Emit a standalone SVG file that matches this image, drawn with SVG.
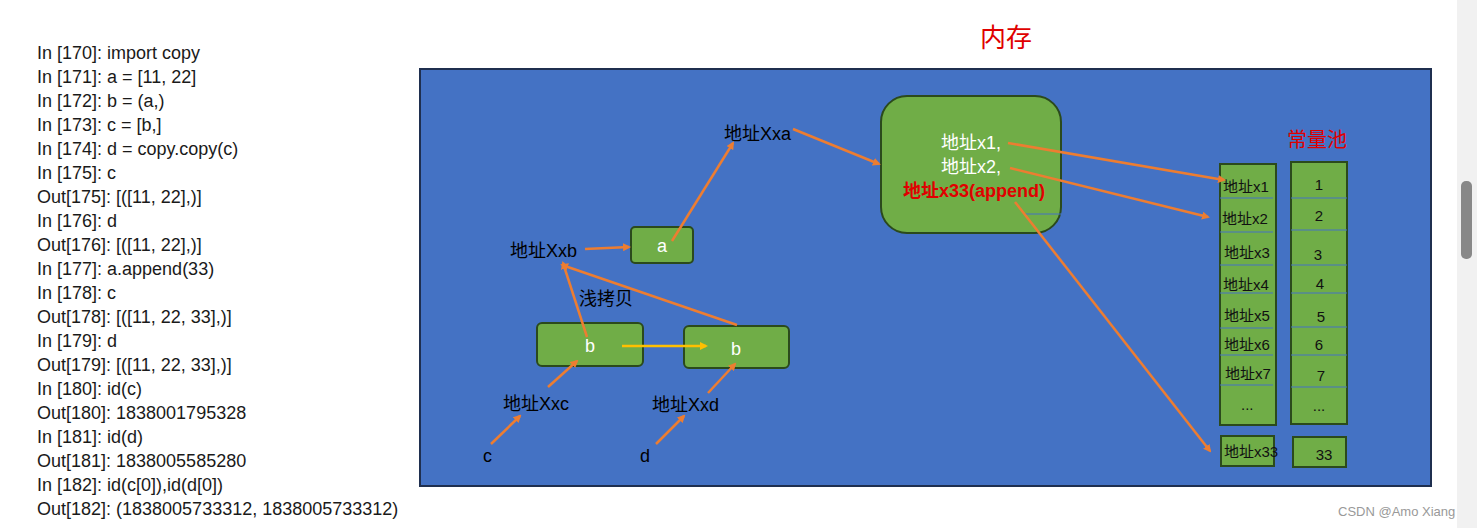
<svg xmlns="http://www.w3.org/2000/svg" width="1477" height="528" viewBox="0 0 1477 528">
<style>
.code{font-family:"Liberation Sans",Arial,sans-serif;font-size:18px;fill:#1a1a1a}
.lbl{font-family:"Liberation Sans","Noto Sans CJK SC",sans-serif;font-size:18px;fill:#000}
.cell{font-family:"Liberation Sans","Noto Sans CJK SC",sans-serif;font-size:15px;fill:#111}
.wt{font-family:"Liberation Sans","Noto Sans CJK SC",sans-serif;font-size:18px;fill:#fff}
.box{fill:#70AD47;stroke:#2b4a1c;stroke-width:2}
.ar{stroke:#ED7D31;stroke-width:2.5;fill:none;marker-end:url(#ah)}
.sep{stroke:#4472C4;stroke-width:1.2}
</style>
<defs>
<marker id="ah" markerWidth="8" markerHeight="8" refX="6" refY="4" orient="auto" markerUnits="userSpaceOnUse" viewBox="0 0 8 8"><path d="M0,0 L8,4 L0,8 z" fill="#ED7D31"/></marker>
<marker id="ahy" markerWidth="8" markerHeight="8" refX="6" refY="4" orient="auto" markerUnits="userSpaceOnUse" viewBox="0 0 8 8"><path d="M0,0 L8,4 L0,8 z" fill="#FFC000"/></marker>
</defs>
<rect width="1477" height="528" fill="#fff"/>
<rect x="1457" y="0" width="20" height="528" fill="#f1f1f1"/>
<rect x="1461" y="181" width="11" height="78" rx="5" fill="#888"/>
<g id="code" class="code">
<text x="37" y="59">In [170]: import copy</text>
<text x="37" y="83">In [171]: a = [11, 22]</text>
<text x="37" y="107">In [172]: b = (a,)</text>
<text x="37" y="131">In [173]: c = [b,]</text>
<text x="37" y="155">In [174]: d = copy.copy(c)</text>
<text x="37" y="179">In [175]: c</text>
<text x="37" y="203">Out[175]: [([11, 22],)]</text>
<text x="37" y="227">In [176]: d</text>
<text x="37" y="251">Out[176]: [([11, 22],)]</text>
<text x="37" y="275">In [177]: a.append(33)</text>
<text x="37" y="299">In [178]: c</text>
<text x="37" y="323">Out[178]: [([11, 22, 33],)]</text>
<text x="37" y="347">In [179]: d</text>
<text x="37" y="371">Out[179]: [([11, 22, 33],)]</text>
<text x="37" y="395">In [180]: id(c)</text>
<text x="37" y="419">Out[180]: 1838001795328</text>
<text x="37" y="443">In [181]: id(d)</text>
<text x="37" y="467">Out[181]: 1838005585280</text>
<text x="37" y="491">In [182]: id(c[0]),id(d[0])</text>
<text x="37" y="515">Out[182]: (1838005733312, 1838005733312)</text>
</g>
<text x="980" y="47" font-family="'Noto Sans CJK SC',sans-serif" font-size="26" fill="#e00000">内存</text>
<rect x="420" y="69" width="1011" height="417" fill="#4472C4" stroke="#1f2f4f" stroke-width="2"/>
<text x="1287" y="147" font-family="'Noto Sans CJK SC',sans-serif" font-size="20" fill="#e00000">常量池</text>
<g id="n-a"><rect class="box" x="631" y="227" width="62" height="36" rx="4"/><text class="wt" x="662" y="252" text-anchor="middle">a</text></g>
<g id="n-b1"><rect class="box" x="537" y="323" width="106" height="43" rx="5"/><text class="wt" x="590" y="352" text-anchor="middle">b</text></g>
<g id="n-b2"><rect class="box" x="684" y="326" width="105" height="42" rx="5"/><text class="wt" x="736" y="355" text-anchor="middle">b</text></g>
<g id="n-list"><rect class="box" x="881" y="96" width="180" height="137" rx="26"/>
<text class="wt" x="971" y="149" text-anchor="middle">地址x1,</text>
<text class="wt" x="971" y="173" text-anchor="middle">地址x2,</text>
<text x="974" y="197" text-anchor="middle" font-family="'Liberation Sans','Noto Sans CJK SC',sans-serif" font-size="18" font-weight="bold" fill="#e00000">地址x33(append)</text>
<line x1="1025" y1="214" x2="1061" y2="214" class="sep"/></g>
<g id="n-addrcol"><rect class="box" x="1220" y="164" width="56" height="261"/>
<line class="sep" x1="1220" y1="198" x2="1273" y2="198"/><line class="sep" x1="1220" y1="232" x2="1273" y2="232"/><line class="sep" x1="1220" y1="265" x2="1273" y2="265"/><line class="sep" x1="1220" y1="293" x2="1273" y2="293"/><line class="sep" x1="1220" y1="328" x2="1273" y2="328"/><line class="sep" x1="1220" y1="355" x2="1273" y2="355"/><line class="sep" x1="1220" y1="385" x2="1273" y2="385"/>
<g class="cell"><text x="1223" y="192">地址x1</text><text x="1222" y="224">地址x2</text><text x="1224" y="258">地址x3</text><text x="1223" y="290">地址x4</text><text x="1224" y="321">地址x5</text><text x="1224" y="350">地址x6</text><text x="1225" y="379">地址x7</text><text x="1241" y="410">...</text></g></g>
<g id="n-valcol"><rect class="box" x="1291" y="162" width="56" height="262"/>
<line class="sep" x1="1291" y1="198" x2="1347" y2="198"/><line class="sep" x1="1291" y1="230" x2="1347" y2="230"/><line class="sep" x1="1291" y1="265" x2="1347" y2="265"/><line class="sep" x1="1291" y1="293" x2="1347" y2="293"/><line class="sep" x1="1291" y1="327" x2="1347" y2="327"/><line class="sep" x1="1291" y1="355" x2="1347" y2="355"/><line class="sep" x1="1291" y1="387" x2="1347" y2="387"/>
<g class="cell" font-size="16" text-anchor="middle"><text x="1319" y="190">1</text><text x="1319" y="221">2</text><text x="1318" y="260">3</text><text x="1320" y="289">4</text><text x="1321" y="322">5</text><text x="1319" y="350">6</text><text x="1321" y="381">7</text><text x="1319" y="411">...</text></g></g>
<g id="n-x33"><rect class="box" x="1221" y="436" width="53" height="30"/><text class="cell" x="1224" y="457">地址x33</text></g>
<g id="n-33"><rect class="box" x="1293" y="437" width="53" height="30"/><text class="cell" x="1324" y="460" text-anchor="middle" font-size="16">33</text></g>
<g id="labels" class="lbl">
<text x="724" y="140">地址Xxa</text>
<text x="510" y="257">地址Xxb</text>
<text x="579" y="305">浅拷贝</text>
<text x="503" y="410">地址Xxc</text>
<text x="652" y="411">地址Xxd</text>
<text x="483" y="462">c</text>
<text x="640" y="462">d</text>
</g>
<g id="connectors">
<line class="ar" x1="585" y1="249" x2="629" y2="247"/>
<line class="ar" x1="672" y1="241" x2="733" y2="143"/>
<line class="ar" x1="793" y1="129" x2="879" y2="164"/>
<line class="ar" x1="1008" y1="143" x2="1224" y2="180"/>
<line class="ar" x1="1010" y1="168" x2="1208" y2="217"/>
<line class="ar" x1="1015" y1="202" x2="1210" y2="451"/>
<line class="ar" x1="587" y1="337" x2="563" y2="263"/>
<line class="ar" x1="737" y1="325" x2="562" y2="265"/>
<line class="ar" x1="548" y1="387" x2="577" y2="361"/>
<line class="ar" x1="708" y1="393" x2="735" y2="364"/>
<line class="ar" x1="491" y1="444" x2="520" y2="416"/>
<line class="ar" x1="656" y1="444" x2="684" y2="416"/>
<line x1="622" y1="346" x2="706" y2="346" stroke="#FFC000" stroke-width="2.5" marker-end="url(#ahy)"/>
</g>
<text x="1338" y="516" font-family="'Liberation Sans',sans-serif" font-size="13" fill="#999">CSDN @Amo Xiang</text>
</svg>
